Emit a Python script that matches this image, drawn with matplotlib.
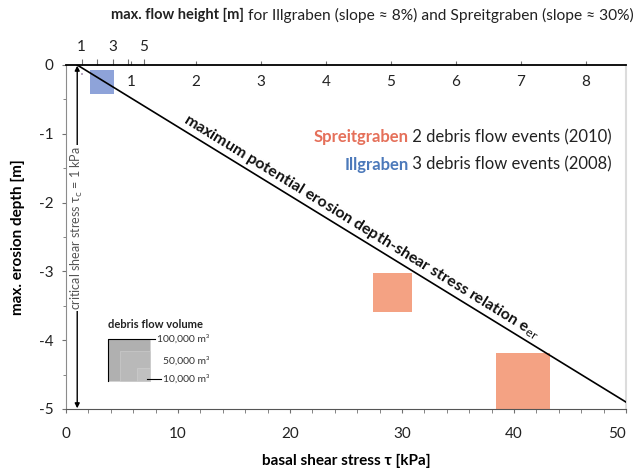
import numpy as np
import matplotlib
matplotlib.use('Agg')
import matplotlib.pyplot as plt
from matplotlib.patches import Rectangle

plt.rcParams['font.family'] = ['Lato', 'DejaVu Sans']
plt.rcParams['axes.unicode_minus'] = False

# erosion depth - shear stress relation
line_tau = [1, 50]
line_depth = [0, -4.9]

# events: shear stress range [kPa], erosion depth range [m]
spreit_tau = [(27.4, 30.9), (38.4, 43.2)]
spreit_depth = [(-3.02, -3.59), (-4.19, -5.0)]
ill_tau = [(2.1, 4.3), (1.3, 1.55)]
ill_depth = [(-0.07, -0.42), (-0.11, -0.15)]

# flow height scales (kPa per m of flow height)
ill_kpa_per_m = 1.39
spreit_kpa_per_m = 5.8
ill_heights = [1, 2, 3, 4, 5]
ill_labels = ['1', '', '3', '', '5']
spreit_heights = [1, 2, 3, 4, 5, 6, 7, 8]

legend_volumes = [100000, 50000, 10000]
legend_labels = ['100,000 m³', '50,000 m³', '10,000 m³']

c_spreit = '#F4A283'
c_spreit_txt = '#E5705A'
c_ill = '#8EA3D9'
c_ill_txt = '#4C79BA'

fig = plt.figure(figsize=(6.33, 4.72), dpi=100)
ax = fig.add_axes([0.1043, 0.1335, 0.8847, 0.7288])
ax.set_xlim(0, 50)
ax.set_ylim(-5, 0)

ax.spines['top'].set_color('black')
ax.spines['top'].set_linewidth(1.3)
ax.spines['left'].set_color('#8c8c8c')
ax.spines['right'].set_color('#dcdcdc')
ax.spines['right'].set_linewidth(1.5)
ax.spines['bottom'].set_color('#555555')

ax.set_xticks(np.arange(0, 51, 10))
ax.set_xticks(np.arange(0, 51, 2), minor=True)
ax.set_yticks(np.arange(-5, 0.1, 1))
ax.set_yticks(np.arange(-5, 0.1, 0.5), minor=True)
ax.set_yticklabels([str(int(v)) for v in np.arange(-5, 0.1, 1)])
ax.tick_params(axis='both', which='both', direction='out', color='#707070', labelsize=11, labelcolor='#222222')
ax.tick_params(axis='x', which='major', length=3, pad=10)
ax.tick_params(axis='x', which='minor', length=3)
ax.tick_params(axis='y', which='major', length=3, pad=6)
ax.tick_params(axis='y', which='minor', length=2)
for lab in ax.get_xticklabels():
    if lab.get_text() == '50':
        lab.set_horizontalalignment('right')
        lab.set_x(50.4)

# rectangles
for (t0, t1), (d0, d1) in zip(spreit_tau, spreit_depth):
    ax.add_patch(Rectangle((t0, d1), t1 - t0, d0 - d1, color=c_spreit, lw=0, zorder=2))
for i, ((t0, t1), (d0, d1)) in enumerate(zip(ill_tau, ill_depth)):
    col = c_ill if i == 0 else '#b8a8c0'
    ax.add_patch(Rectangle((t0, d1), t1 - t0, d0 - d1, color=col, lw=0, zorder=2))

# relation line
ax.plot(line_tau, line_depth, color='black', lw=1.2, zorder=3)
ang = np.degrees(np.arctan2(0.1 * 68.8, 11.2))
ax.text(26.0, -2.47, 'maximum potential erosion depth-shear stress relation e$_{\\rm er}$',
        rotation=-ang, rotation_mode='anchor', ha='center', va='bottom',
        fontsize=11.5, fontweight='bold', color='#111111', zorder=4)

# critical shear stress arrow
ax.annotate('', xy=(1, -4.99), xytext=(1, -0.01),
            arrowprops=dict(arrowstyle='<|-|>', lw=1.0, color='black', mutation_scale=7,
                            shrinkA=0, shrinkB=0), zorder=3)
ax.text(1, -2.37, 'critical shear stress τ$_{\\rm c}$ = 1 kPa', rotation=90, ha='center', va='center',
        fontsize=9, color='#555555', bbox=dict(facecolor='white', edgecolor='none', pad=1), zorder=4)

# legend text
t1 = ax.text(0.975, 0.79, ' 2 debris flow events (2010)', transform=ax.transAxes,
             ha='right', va='center', fontsize=12, color='#222222')
ax.annotate('Spreitgraben', xy=(0, 0.5), xycoords=t1, ha='right', va='center',
            fontsize=12, fontweight='bold', color=c_spreit_txt)
t2 = ax.text(0.975, 0.71, ' 3 debris flow events (2008)', transform=ax.transAxes,
             ha='right', va='center', fontsize=12, color='#222222')
ax.annotate('Illgraben', xy=(0, 0.5), xycoords=t2, ha='right', va='center',
            fontsize=12, fontweight='bold', color=c_ill_txt)

# volume legend
lx1, ly0 = 7.5, -4.59
side_x, side_y = 3.75, 0.61
ax.text(3.75, -3.77, 'debris flow volume', fontsize=8, fontweight='bold', color='#222222', va='center')
grays = ['#b0b0b0', '#b9b9b9', '#c0c0c0']
for v, g in zip(legend_volumes, grays):
    s = np.sqrt(v / legend_volumes[0])
    ax.add_patch(Rectangle((lx1 - side_x * s, ly0), side_x * s, side_y * s, facecolor=g,
                           edgecolor='#d0d0d0', lw=0.4, zorder=2))
ax.plot([3.75, 3.75, 7.9], [ly0, ly0 + side_y, ly0 + side_y], color='black', lw=0.8, zorder=3)
ax.plot([7.2, 8.5], [ly0 + 0.02, ly0 + 0.02], color='black', lw=0.8, zorder=3)
ax.text(8.1, ly0 + side_y, legend_labels[0], fontsize=7.5, color='#333333', va='center')
ax.text(8.7, -4.30, legend_labels[1], fontsize=7.5, color='#333333', va='center')
ax.text(8.7, ly0 + 0.02, legend_labels[2], fontsize=7.5, color='#333333', va='center')

# flow height scales on top
sec_i = ax.secondary_xaxis('top', functions=(lambda t: t / ill_kpa_per_m, lambda h: h * ill_kpa_per_m))
sec_i.set_xticks(ill_heights)
sec_i.set_xticklabels(ill_labels)
sec_i.tick_params(direction='out', length=4, color='#707070', labelsize=11, pad=4, labelcolor='#222222')
sec_i.spines['top'].set_visible(False)

sec_s = ax.secondary_xaxis('top', functions=(lambda t: t / spreit_kpa_per_m, lambda h: h * spreit_kpa_per_m))
sec_s.set_xticks(spreit_heights)
sec_s.set_xticklabels([str(h) for h in spreit_heights])
sec_s.tick_params(direction='out', length=3, color='#707070', labelsize=11, pad=-20, labelcolor='#222222')
sec_s.spines['top'].set_visible(False)

ax.set_xlabel('basal shear stress τ [kPa]', fontsize=11, fontweight='bold', labelpad=9)
ax.set_ylabel('max. erosion depth [m]', fontsize=11, fontweight='bold', labelpad=10)

# title in two parts
tt = fig.text(244 / 633, 1 - 15 / 472, ' for Illgraben (slope ≈ 8%) and Spreitgraben (slope ≈ 30%)',
              ha='left', va='center', fontsize=11.2, color='#222222')
ax.annotate('max. flow height [m]', xy=(0, 0.5), xycoords=tt, ha='right', va='center',
            fontsize=10.5, fontweight='bold', color='#222222', annotation_clip=False)

fig.savefig('out.png', dpi=100)
